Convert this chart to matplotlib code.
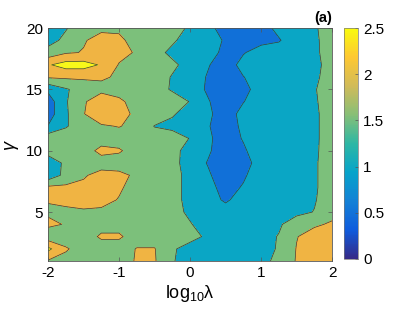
import numpy as np
import matplotlib
matplotlib.use('Agg')
import matplotlib.pyplot as plt
from matplotlib.colors import LinearSegmentedColormap, Normalize
from matplotlib.cm import ScalarMappable

plt.rcParams['font.family'] = ['Liberation Sans', 'DejaVu Sans']
plt.rcParams['mathtext.fontset'] = 'custom'
plt.rcParams['mathtext.rm'] = 'Liberation Sans'
plt.rcParams['mathtext.it'] = 'Liberation Sans:italic'
plt.rcParams['axes.unicode_minus'] = False

# grid: log10(lambda) columns, gamma rows
log_lambda = [-2, -1.75, -1.5, -1.25, -1, -0.75, -0.5, -0.25, 0,
              0.25, 0.5, 0.75, 1, 1.25, 1.5, 1.75, 2]
gamma = list(range(20, 0, -1))

# values, one row per gamma (20 -> 1)
z = [
    [0.95, 1.46, 1.8, 1.93, 1.93, 1.85, 1.8, 1.79, 1.39, 1.16, 0.76, 0.7, 0.76, 1.16, 1.3, 1.42, 1.82],
    [1.3, 1.63, 1.97, 2.12, 2.08, 1.85, 1.78, 1.6, 1.2, 1.32, 0.92, 0.75, 0.8, 0.95, 1.35, 1.39, 1.79],
    [1.7, 1.95, 2.02, 2.2, 2.15, 1.95, 1.74, 1.34, 1.2, 1.24, 0.84, 0.95, 1.3, 1.3, 1.3, 1.38, 1.78],
    [2.45, 2.7, 2.7, 2.45, 1.97, 1.8, 1.8, 1.64, 1.24, 1.05, 0.65, 1.23, 1.3, 1.3, 1.3, 1.34, 1.74],
    [2.05, 2.08, 2.08, 2.05, 1.95, 1.8, 1.85, 1.45, 1.35, 0.95, 0.7, 0.98, 1.3, 1.3, 1.3, 1.38, 1.78],
    [1.1, 1.45, 1.7, 1.89, 1.8, 1.75, 1.82, 1.42, 1.32, 0.92, 0.7, 0.84, 1.24, 1.3, 1.3, 1.45, 1.85],
    [0.75, 1.45, 1.95, 2.25, 2.1, 1.8, 1.8, 1.87, 1.47, 1.05, 0.65, 0.98, 1.3, 1.3, 1.3, 1.42, 1.82],
    [0.75, 1.42, 1.98, 2.3, 2.25, 1.85, 1.8, 1.58, 1.18, 1.11, 0.71, 1.19, 1.3, 1.3, 1.3, 1.39, 1.79],
    [1.02, 1.45, 1.8, 1.95, 2.02, 1.88, 1.48, 1.3, 1.25, 1.05, 0.65, 1.14, 1.3, 1.3, 1.3, 1.39, 1.79],
    [1.82, 1.8, 1.75, 1.8, 1.8, 1.75, 1.75, 1.87, 1.47, 1.11, 0.71, 1.04, 1.3, 1.3, 1.3, 1.39, 1.79],
    [1.8, 1.8, 1.8, 2.12, 2.05, 1.8, 1.8, 1.68, 1.28, 1.08, 0.68, 0.92, 1.32, 1.3, 1.3, 1.4, 1.8],
    [1.05, 1.65, 1.8, 1.8, 1.8, 1.8, 1.8, 1.64, 1.3, 0.97, 0.65, 0.81, 1.21, 1.3, 1.3, 1.42, 1.82],
    [1.15, 1.65, 1.95, 2.15, 2.1, 1.93, 1.8, 1.71, 1.31, 1.08, 0.68, 0.92, 1.32, 1.3, 1.3, 1.42, 1.82],
    [2.1, 2.1, 2.1, 2.1, 2.05, 1.85, 1.8, 1.71, 1.31, 1.19, 0.79, 1.05, 1.3, 1.3, 1.3, 1.42, 1.82],
    [2.03, 2.1, 2.15, 2.12, 1.98, 1.8, 1.8, 1.71, 1.31, 1.2, 0.93, 1.2, 1.3, 1.3, 1.3, 1.45, 1.85],
    [1.93, 1.92, 1.95, 1.93, 1.8, 1.8, 1.8, 1.76, 1.36, 1.25, 1.2, 1.25, 1.3, 1.3, 1.35, 1.52, 1.85],
    [2.1, 1.97, 1.8, 1.85, 1.85, 1.8, 1.8, 1.75, 1.55, 1.15, 1.2, 1.25, 1.3, 1.42, 1.82, 1.93, 2.06],
    [1.7, 1.75, 1.8, 2.06, 2.06, 1.8, 1.8, 1.8, 1.76, 1.36, 1.25, 1.25, 1.3, 1.53, 1.98, 2.2, 2.2],
    [2.62, 2.05, 1.8, 1.8, 1.8, 2.02, 2.02, 1.6, 1.2, 1.25, 1.25, 1.25, 1.3, 1.55, 2.02, 2.2, 2.2],
    [1.95, 1.85, 1.8, 1.8, 1.8, 2.04, 2.04, 1.56, 1.16, 1.2, 1.25, 1.25, 1.3, 1.68, 2.03, 2.2, 2.2],
]

levels = [0, 0.5, 1, 1.5, 2, 2.5, 3]
fill_colors = ['#352a87', '#1170d8', '#0aa6c5', '#7cc07b', '#f0b443', '#f8f81a']

# parula-like colormap for the colorbar
parula = LinearSegmentedColormap.from_list('parula', [
    '#352a87', '#0f5cdd', '#1481d6', '#06a4ca', '#2eb7a4',
    '#87bf77', '#d1bb59', '#fec832', '#f9fb0e'])

fig = plt.figure(figsize=(4.07, 3.15), dpi=100)
ax = fig.add_axes([0.118, 0.171, 0.698, 0.740])

X, Y = np.meshgrid(log_lambda, gamma)
Z = np.array(z)
ax.contourf(X, Y, Z, levels=levels, colors=fill_colors)
ax.contour(X, Y, Z, levels=levels[1:-1], colors='#3a3a3a', linewidths=0.5)

ax.set_xlim(-2, 2)
ax.set_ylim(1, 20)
ax.set_xticks([-2, -1, 0, 1, 2])
ax.set_yticks([5, 10, 15, 20])
ax.tick_params(direction='in', top=True, right=True, labelsize=11,
               length=3, width=0.5, color='#555555')
for s in ax.spines.values():
    s.set_linewidth(0.6)
    s.set_color('#555555')

ax.set_xlabel(r'$\mathregular{log_{10}\lambda}$', fontsize=13, labelpad=2)
ax.set_ylabel(r'$\gamma$', fontsize=13, labelpad=4)
ax.text(1.0, 1.012, '(a)', transform=ax.transAxes, ha='right', va='bottom',
        fontsize=10.5, fontweight='bold')

cax = fig.add_axes([0.845, 0.178, 0.035, 0.733])
sm = ScalarMappable(norm=Normalize(0, 2.5), cmap=parula)
cb = fig.colorbar(sm, cax=cax, ticks=[0, 0.5, 1, 1.5, 2, 2.5])
cb.ax.set_yticklabels(['0', '0.5', '1', '1.5', '2', '2.5'])
cb.ax.tick_params(labelsize=11, direction='in', length=2, width=0.5, color='#555555')
cb.outline.set_linewidth(0.5)
cb.outline.set_edgecolor('#777777')

plt.savefig('out.png', dpi=100)
plt.close()
